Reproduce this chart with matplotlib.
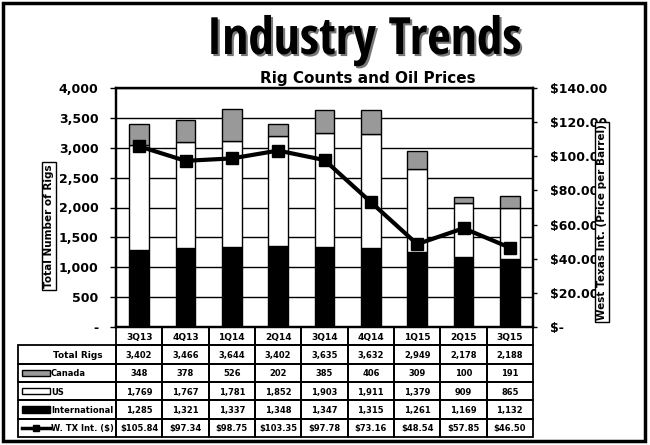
import numpy as np
import matplotlib.pyplot as plt
import matplotlib.patheffects as pe
from matplotlib.patches import Rectangle
from matplotlib.lines import Line2D
from matplotlib.ticker import FuncFormatter, MultipleLocator

plt.rcParams['font.family'] = ['DejaVu Sans']
plt.rcParams['font.weight'] = 'bold'

quarters = ['3Q13', '4Q13', '1Q14', '2Q14', '3Q14', '4Q14', '1Q15', '2Q15', '3Q15']
total_rigs = [3402, 3466, 3644, 3402, 3635, 3632, 2949, 2178, 2188]
canada = [348, 378, 526, 202, 385, 406, 309, 100, 191]
us = [1769, 1767, 1781, 1852, 1903, 1911, 1379, 909, 865]
international = [1285, 1321, 1337, 1348, 1347, 1315, 1261, 1169, 1132]
wti = [105.84, 97.34, 98.75, 103.35, 97.78, 73.16, 48.54, 57.85, 46.50]

W, H = 650, 445


def box(l, t, r, b):
    # pixel box -> figure fraction rect
    return [l / W, 1 - b / H, (r - l) / W, (b - t) / H]


fig = plt.figure(figsize=(6.5, 4.45), dpi=100)

# ---- main chart ----
ax = fig.add_axes(box(116, 88, 533, 327))
x = np.arange(len(quarters))
bw = 0.42
bottom_us = np.array(international)
bottom_ca = bottom_us + np.array(us)
ax.bar(x, international, bw, color='black', edgecolor='black', lw=1, zorder=2)
ax.bar(x, us, bw, bottom=bottom_us, color='white', edgecolor='black', lw=1, zorder=2)
ax.bar(x, canada, bw, bottom=bottom_ca, color='#999999', edgecolor='black', lw=1, zorder=2)

ax.set_xlim(-0.5, len(quarters) - 0.5)
ax.set_ylim(0, 4000)
ax.yaxis.set_major_locator(MultipleLocator(500))
ax.yaxis.set_major_formatter(FuncFormatter(lambda v, p: '-' if v == 0 else f'{v:,.0f}'))
ax.grid(axis='y', color='black', lw=1)
ax.set_axisbelow(True)
ax.set_xticks([])
ax.tick_params(axis='y', direction='out', length=4.5, width=1, pad=8, labelsize=9)
for s in ax.spines.values():
    s.set_linewidth(1.6)

ax2 = ax.twinx()
ax2.plot(x, wti, color='black', lw=3, marker='s', ms=8, zorder=3)
ax2.set_ylim(0, 140)
ax2.yaxis.set_major_locator(MultipleLocator(20))
ax2.yaxis.set_major_formatter(FuncFormatter(lambda v, p: '$-' if v == 0 else f'${v:.2f}'))
ax2.tick_params(axis='y', direction='out', length=3, width=1, pad=9, labelsize=9)
for s in ax2.spines.values():
    s.set_linewidth(1.6)

# boxed axis titles
lab_box = dict(facecolor='white', edgecolor='black', lw=1, pad=1.5)
fig.text(49 / W, 1 - 226 / H, 'Total Number of Rigs', rotation=90, ha='center', va='center',
         fontsize=7.5, bbox=lab_box)
fig.text(602 / W, 1 - 222 / H, 'West Texas Int. (Price per Barrel)', rotation=90, ha='center',
         va='center', fontsize=7.5, bbox=lab_box, zorder=5)

# titles
fig.text(364 / W, 1 - 41 / H, 'Industry Trends', ha='center', va='center', fontsize=37,
         family=['Liberation Sans Narrow', 'Open Sans Condensed', 'DejaVu Sans'],
         weight='heavy', stretch='condensed',
         path_effects=[pe.withSimplePatchShadow(offset=(1.5, -1.5), shadow_rgbFace='#777777', alpha=1)])
fig.text(368 / W, 1 - 78 / H, 'Rig Counts and Oil Prices', ha='center', va='center',
         fontsize=11, weight='heavy')

# ---- data table ----
tax = fig.add_axes(box(18, 327, 533, 437))
colw = (533 - 116) / len(quarters)
xl = -0.5 - (116 - 18) / colw
tax.set_xlim(xl, len(quarters) - 0.5)
tax.set_ylim(6, 0)
tax.axis('off')

cell = dict(fill=False, edgecolor='black', lw=1.3, clip_on=False)
for i, q in enumerate(quarters):
    tax.add_patch(Rectangle((i - 0.5, 0), 1, 1, **cell))
    tax.text(i, 0.55, q, ha='center', va='center', fontsize=6.5)

rows = [
    ('Total Rigs', [f'{v:,}' for v in total_rigs], None),
    ('Canada', [f'{v:,}' for v in canada], '#999999'),
    ('US', [f'{v:,}' for v in us], 'white'),
    ('International', [f'{v:,}' for v in international], 'black'),
    ('W. TX Int. ($)', [f'${v:.2f}' for v in wti], 'line'),
]
px = 1 / colw
for r, (name, vals, key) in enumerate(rows, start=1):
    tax.add_patch(Rectangle((xl, r), -0.5 - xl, 1, **cell))
    for i, v in enumerate(vals):
        tax.add_patch(Rectangle((i - 0.5, r), 1, 1, **cell))
        tax.text(i, r + 0.55, v, ha='center', va='center', fontsize=6)
    if key is None:
        tax.text(xl + 60 * px, r + 0.55, name, ha='center', va='center', fontsize=6.5)
        continue
    if key == 'line':
        tax.add_line(Line2D([xl + 4 * px, xl + 32 * px], [r + 0.5, r + 0.5], color='black',
                            lw=2.5, clip_on=False))
        tax.plot([xl + 18 * px], [r + 0.5], marker='s', color='black', ms=4, clip_on=False)
    else:
        tax.add_patch(Rectangle((xl + 4 * px, r + 0.32), 28 * px, 0.36, facecolor=key,
                                edgecolor='black', lw=1, clip_on=False))
    tax.text(xl + 33 * px, r + 0.55, name, ha='left', va='center', fontsize=6)

# outer frame
fig.patches.append(Rectangle((3 / W, 4 / H), 642 / W, 438 / H, transform=fig.transFigure,
                             fill=False, edgecolor='black', lw=2.5))

fig.savefig('out.png', dpi=100)
